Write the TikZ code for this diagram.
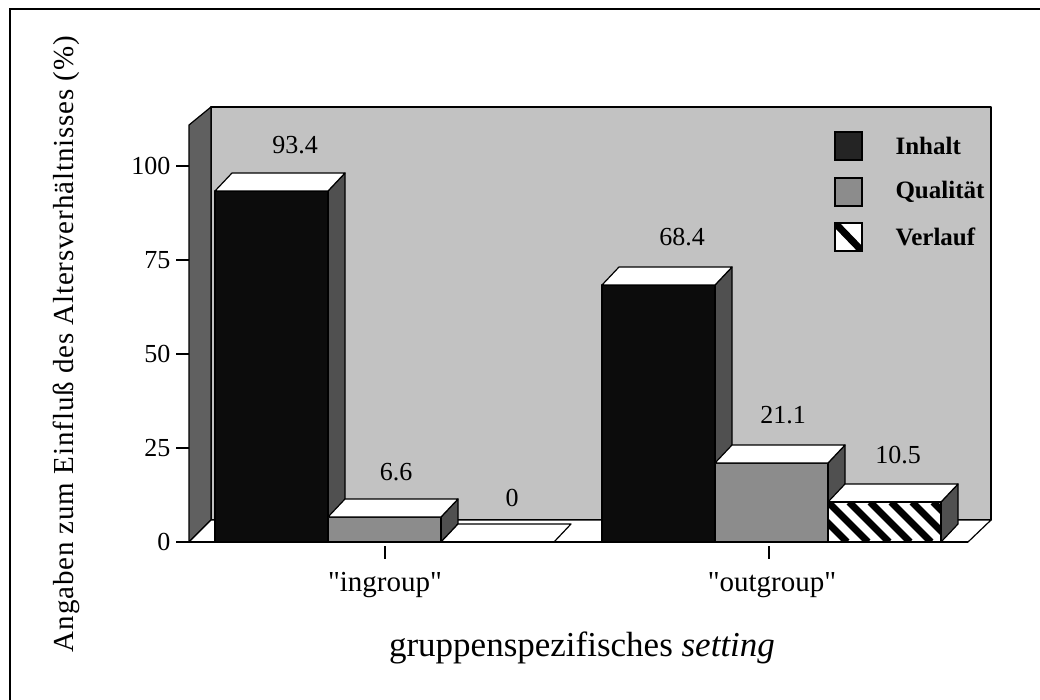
\documentclass[tikz,border=0pt]{standalone}
\usepackage{fontspec}
\setmainfont{Liberation Serif}
\newfontfamily\qfont{Liberation Serif}
\newcommand\FS[1]{\fontsize{#1}{#1}\selectfont}
\newcommand\SQ{{\qfont"}}
\definecolor{wallgray}{HTML}{C2C2C2}
\definecolor{leftgray}{HTML}{606060}
\definecolor{sidegray}{HTML}{505050}
\definecolor{qualgray}{HTML}{8C8C8C}
\definecolor{inhaltblack}{HTML}{0C0C0C}
\newcommand\BarBox[4]{%
  \path[barline, fill=#4] (#1+113,542) -- (#1+113,#2) -- (#1+130,#2-18) -- (#1+130,524) -- cycle;
  \path[barline, #3] (#1,542) rectangle (#1+113,#2);
  \path[barline, fill=white] (#1,#2) -- (#1+113,#2) -- (#1+130,#2-18) -- (#1+17,#2-18) -- cycle;
}
\begin{document}
\begin{tikzpicture}[x=1pt,y=-1pt,
  frameline/.style={line width=1.8pt},
  wall/.style={draw=black,line width=1.2pt,line join=round},
  barline/.style={draw=black,line width=1.2pt,line join=round},
  tickmark/.style={line width=1.4pt},
  ticklab/.style={anchor=east,font=\FS{26}},
  vallab/.style={font=\FS{26}},
  leglab/.style={anchor=west,font=\bfseries\FS{25}},
  legbox/.style={draw=black,line width=1.4pt},
  grouplab/.style={font=\FS{29}},
  axistitle/.style={font=\FS{35}},
  ylab/.style={font={\FS{29}\addfontfeature{LetterSpace=3}},rotate=90}
]
\useasboundingbox (0,0) rectangle (1040,700);
\fill[white] (0,0) rectangle (1040,700);
\draw[frameline] (10,700) -- (10,9) -- (1040,9);

% walls and floor
\path[wall, fill=wallgray] (211,107) rectangle (991,520);
\path[wall, fill=leftgray] (189,125) -- (211,107) -- (211,520) -- (189,542) -- cycle;
\path[wall, fill=white] (189,542) -- (211,520) -- (991,520) -- (968,542) -- cycle;

% y ticks
\foreach \v/\y in {0/542,25/448,50/354,75/260,100/166}{
  \draw[tickmark] (176,\y) -- (189,\y);
  \node[ticklab] (tick\v) at (174,\y) {\v};
}

% bars: ingroup
\BarBox{215}{191}{fill=inhaltblack}{sidegray}
\BarBox{328}{517}{fill=qualgray}{sidegray}
\path[barline, fill=white] (441,542) -- (554,542) -- (571,524) -- (458,524) -- cycle;

% bars: outgroup
\BarBox{602}{285}{fill=inhaltblack}{sidegray}
\BarBox{715}{463}{fill=qualgray}{sidegray}
\BarBox{828}{502}{fill=white}{sidegray}
\begin{scope}
  \clip (828,542) rectangle (941,502);
  \foreach \k in {-2,...,6}{
    \draw[line width=7pt] (828+\k*21,502) -- (868+\k*21,542);
  }
\end{scope}
\path[barline] (828,542) rectangle (941,502);

% floor front line
\draw[tickmark] (176,542) -- (968,542);

% value labels
\node[vallab] (v1) at (295,145) {93.4};
\node[vallab] (v2) at (396,472) {6.6};
\node[vallab] (v3) at (512,498) {0};
\node[vallab] (v4) at (682,237) {68.4};
\node[vallab] (v5) at (783,415) {21.1};
\node[vallab] (v6) at (898,455) {10.5};

% legend
\path[legbox, fill=inhaltblack!90!white] (835,132) rectangle (862,160);
\path[legbox, fill=qualgray] (835,178) rectangle (862,206);
\begin{scope}
  \clip (835,223) rectangle (862,251);
  \fill[white] (835,223) rectangle (862,251);
  \draw[line width=7pt] (835,223) -- (862,251);
\end{scope}
\path[legbox] (835,223) rectangle (862,251);
\node[leglab] (l1) at (892,146) {Inhalt};
\node[leglab] (l2) at (892,192) {Qualität};
\node[leglab] (l3) at (892,237) {Verlauf};

% group ticks and labels
\draw[tickmark] (385,546) -- (385,559);
\draw[tickmark] (769,546) -- (769,559);
\node[grouplab] (g1) at (385,585) {\SQ ingroup\SQ};
\node[grouplab] (g2) at (772,585) {\SQ outgroup\SQ};

% axis titles
\node[axistitle] (xt) at (582,648) {gruppenspezifisches \textit{setting}};
\node[ylab] (yt) at (66,344) {Angaben zum Einfluß des Altersverhältnisses (\%)};
\end{tikzpicture}
\end{document}
